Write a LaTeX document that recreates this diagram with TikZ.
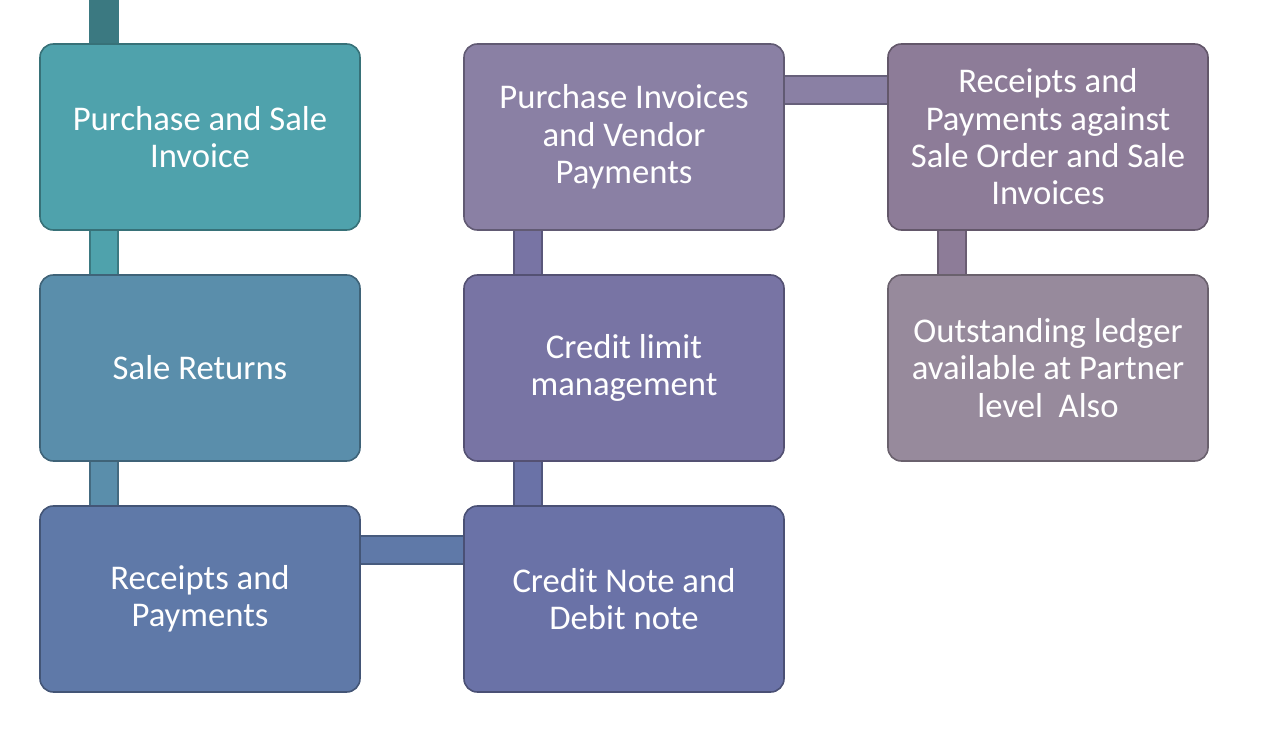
\documentclass[tikz,border=0pt]{standalone}
\usepackage{fontspec}
\setmainfont{Carlito}
\begin{document}
\begin{tikzpicture}[x=0.75pt,y=-0.75pt,
 box/.style={rounded corners=10pt,draw=#1!70!black,line width=1.2pt,fill=#1,text=white,align=center,font=\fontsize{26}{28}\selectfont,minimum width=240pt,minimum height=139.5pt,inner sep=2pt},
 bar/.style={line width=23pt,draw=#1!75!black},
 barin/.style={line width=20pt,draw=#1}]
\useasboundingbox (0,0) rectangle (1261,738);
\definecolor{c1}{HTML}{4FA2AC}
\definecolor{c2}{HTML}{5A8EAB}
\definecolor{c3}{HTML}{5F79A8}
\definecolor{c4}{HTML}{8A80A4}
\definecolor{c5}{HTML}{7874A4}
\definecolor{c6}{HTML}{6A72A7}
\definecolor{c7}{HTML}{8D7C98}
\definecolor{c8}{HTML}{978A9C}
\coordinate (v1) at (104,0);
\coordinate (v2) at (528,0);
\coordinate (v3) at (952,0);
\coordinate (h1) at (0,550);
\coordinate (h2) at (0,90);
\draw[bar=c1] (v1|-230,0) -- (v1|-0,275);
\draw[barin=c1] (v1|-0,228) -- (v1|-0,277);
\draw[bar=c2] (v1|-0,461) -- (v1|-0,506);
\draw[barin=c2] (v1|-0,459) -- (v1|-0,508);
\draw[bar=c3] (h1-|360,0) -- (h1-|465,0);
\draw[barin=c3] (h1-|358,0) -- (h1-|467,0);
\draw[bar=c6] (v2|-0,461) -- (v2|-0,506);
\draw[barin=c6] (v2|-0,459) -- (v2|-0,508);
\draw[bar=c5] (v2|-0,230) -- (v2|-0,275);
\draw[barin=c5] (v2|-0,228) -- (v2|-0,277);
\draw[bar=c4] (h2-|783,0) -- (h2-|888,0);
\draw[barin=c4] (h2-|781,0) -- (h2-|890,0);
\draw[bar=c7] (v3|-0,230) -- (v3|-0,275);
\draw[barin=c7] (v3|-0,228) -- (v3|-0,277);
\node[box=c1] (a) at (200,137) {Purchase and Sale\\Invoice};
\node[box=c2] (b) at (200,368) {Sale Returns};
\node[box=c3] (c) at (200,599) {Receipts and\\Payments};
\node[box=c4] (d) at (624,137) {Purchase Invoices\\and Vendor\\Payments};
\node[box=c5] (e) at (624,368) {Credit limit\\management};
\node[box=c6] (f) at (624,599) {Credit Note and\\Debit note};
\node[box=c7] (g) at (1048,137) {Receipts and\\Payments against\\Sale Order and Sale\\Invoices};
\node[box=c8] (h) at (1048,368) {Outstanding ledger\\available at Partner\\level\ \ Also};
\end{tikzpicture}
\end{document}
